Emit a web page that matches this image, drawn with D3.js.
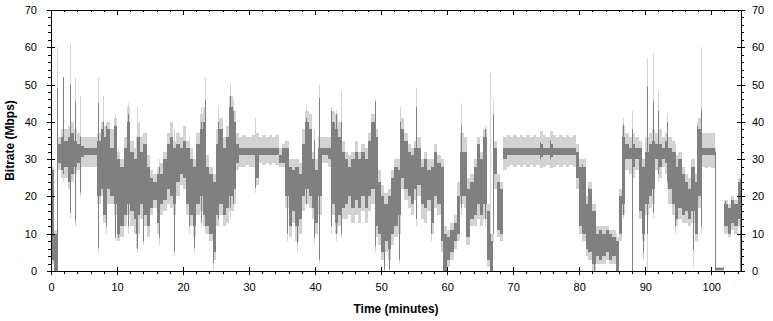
<!DOCTYPE html>
<html>
<head>
<meta charset="utf-8">
<script src="https://cdn.jsdelivr.net/npm/d3@7"></script>
<style>
body { margin: 0; background: #fff; }
svg text { font-family: "Liberation Sans", Arial, sans-serif; }
</style>
</head>
<body>
<svg id="svg1" width="773" height="321"></svg>
<script>
// bitrate samples, one every half minute (0 .. 104 min)
var binMinutes = 0.5;

// average bitrate band (dark grey), low / high in Mbps
var darkLow = [
  3,0,29,27,28,24,26,28,29,30.5,
  31,31,31,31,20,22,15,22,20,18,
  10,12,15,18,16,14,15,18,15,12,
  17,19,13,18,19,22,20,18,24,26,
  25,18,15,12,18,20,15,12,10,5,
  15,18,15,17,20,22,29,31,31,31,
  31,31,25,31,31,31,31,31,31,29,
  29,20,12,16,12,14,20,22,20,17,
  13,20,31,31,30,18,13,15,17,18,
  20,17,19,17,20,17,20,22,12,10,
  5,8,6,10,12,15,25,22,20,18,
  22,23,18,17,19,13,20,18,8,0,
  3,5,8,10,20,20,9,14,15,18,
  15,18,3,0,26,11,10,30,31,31,
  31,31,31,31,31,31,31,31,30.5,31,
  31,30.5,31,31,31,31,31,31,31,25,
  12,10,6,5,2,4,3,4,5,3,
  4,0,10,18,30,30,28,30,16,10,
  18,20,22,30,28,30,29,22,18,14,
  17,15,16,14,16,10,20,31,31,31,
  31,0.3,0.3,0.3,12,10,13,12,14
];
var darkHigh = [
  27,10,34,36,35,36,37,35,34,33.5,
  33,33,33,33,35,38,36,38,33,39,
  30,28,33,40,32,30,36,32,34,28,
  25,24,26,26,30,34,36,33,34,33,
  35,33,30,28,34,38,40,28,26,24,
  34,38,33,36,44,40,34,33,33,33,
  33,33,33,33,33,33,33,33,33,31,
  33,33,28,27,28,26,34,40,38,30,
  27,33,33,33,33,40,38,36,32,30,
  28,30,32,30,32,30,35,40,36,24,
  20,18,20,25,28,27,38,35,32,31,
  33,33,28,30,27,28,32,29,28,10,
  9,11,13,20,32,32,22,24,28,34,
  30,36,16,8,33,24,22,33,33,33,
  33,33,33,33,33,33,33,33,34,33,
  33,34,33,33,33,33,33,33,33,32,
  28,28,18,22,16,10,11,10,11,10,
  9,8,20,36,34,33,34,33,33,28,
  32,34,35,34,34,33,35,33,32,28,
  30,26,24,22,28,24,38,33,33,33,
  33,0.8,0.8,0.8,18,17,19,18,24
];

// peak bitrate band (light grey), low / high in Mbps
var lightLow = [
  2,0,27,25,25,22,24,26,27,28,
  28,28,28,28,18,20,13,18,18,15,
  8,9,12,15,12,10,10,14,12,9,
  15,17,10,15,16,18,17,15,20,23,
  22,15,12,9,15,16,12,10,8,3,
  12,15,12,13,16,18,27,28,28,28.5,
  28,28,23,29,28.5,29,28.5,29,28.5,28,
  28,17,9,13,8,10,16,18,17,14,
  10,15,29,29,28,15,10,12,14,14,
  15,13,15,13,16,13,16,18,9,7,
  3,5,3,7,9,10,22,19,17,15,
  19,20,14,13,16,10,17,15,5,0,
  1,3,6,8,18,17,7,12,12,14,
  12,14,1,0,22,9,8,27,28,28.5,
  28,28.5,28,28.5,28,28.5,28,28.5,27.5,28,
  28.5,27.5,28,28.5,28,28.5,28,28.5,28,22,
  10,8,4,3,0,2,2,2,3,2,
  2,0,8,15,27,26,25,27,14,8,
  15,17,18,27,25,28,26,18,15,12,
  14,13,13,12,13,8,17,28,27.5,28,
  27.5,0,0,0,10,9,11,10,12
];
var lightHigh = [
  28,11,36,38,38,39,40,38,37,36,
  36,36,36,36,37,40,39,40,38,41,
  32,30,36,44,35,33,40,36,37,31,
  27,26,28,29,32,37,40,35,37,36,
  39,35,33,30,37,42,44,31,28,26,
  38,41,36,39,47,43,37,36,36.5,36,
  36,36.5,37,36,36.5,36,36.5,36,36.5,33,
  34,35,30,30,30,29,38,43,42,32,
  30,36,36,36,36,43,42,40,35,32,
  31,32,35,32,34,33,37,42,38,27,
  23,21,22,27,30,30,41,37,34,33,
  35,36,30,32,30,30,34,31,30,12,
  11,13,15,24,37,36,25,26,30,36,
  32,38,18,10,35,26,24,36,36.5,36,
  36.5,36,36.5,36,36.5,36,36.5,36,37.5,36.5,
  36,37.5,36.5,36,36.5,36,36.5,36,36.5,34,
  30,30,20,24,18,12,12,12,12,11,
  11,9,22,39,37,36,37,36,35,30,
  36,37,38,37,38,36,37,36,35,31,
  32,28,26,25,30,26,41,37,37,37,
  37,1,1,1,19,18,20,19,25
];

// short spikes: minute, peak low, peak high, avg low, avg high
var spikeTime = [0.9,1.8,2.9,3.7,4.4,7.1,7.8,8.4,9.7,10.2,11.7,12.8,13.1,14.0,16.4,18.6,20.9,21.7,22.7,23.3,
  24.5,25.3,27.1,27.5,30.9,35.8,37.3,38.6,39.8,40.6,42.4,43.2,43.9,49.1,50.4,51.2,52.7,52.9,55.3,57.5,
  59.3,62.1,62.9,65.7,66.5,67.0,74.1,75.6,80.4,81.4,82.2,85.5,86.7,88.0,89.0,89.6,90.3,91.2,92.0,93.3,
  94.5,97.3,97.9,98.4,100.6,102.1,102.6,104.4];
var spikePeakLow = [0,24,14,12,20,5,13,10,8,8,10,6,5,7,7,4,10,5,12,10,
  0,12,14,16,21,8,5,17,7,2,10,8,9,5,0,0,2,18,12,8,
  0,15,7,12,0,8,29,29,8,3,0,0,14,0,14,3,0,14,24,22,
  10,1,8,10,0,10,9,0];
var spikePeakHigh = [60,52,61,52,47,52,47,40,42,33,45,36,44,36,30,38,36,30,44,52,
  26,44,50,46,41,33,30,44,38,50,44,43,48,46,20,22,28,44,49,30,
  22,45,25,39,53,46,37,37,30,24,16,10,41,43,34,30,57,58.5,48,42,
  34,30,40,60,33,19,16,24];
var spikeAvgLow = [0,26,15.6,13.3,21,6.2,15,12,9,9,12,10,6,8,9,5.3,12,6.2,13,12,
  2.2,14,17,18,22.3,10,7.5,18,9,3,12,10,10,6.6,0.4,0.4,3,20,14,10,
  0,17,9,14,0,10,30,30,10,5,0,0,15,0,16,4.8,10,15.6,26,24,
  12,5.7,10,12,0,12,10.2,0];
var spikeAvgHigh = [49,52,50,45.5,36,45,40,39,39,30,42,30,36,34,28,33,33,28,40,46,
  24,40,47,43,33,32,27,41,35,46.4,43,42,40,45.5,18,20,26,40,44,28,
  20,39,23,38,10,42,34.5,35,28.5,22.3,14,8,39.3,38,32,28,49.5,45.5,43,40,
  32,28,38.8,43.3,32,18.7,14,24.5];

// tick values
var xMajor = [0,10,20,30,40,50,60,70,80,90,100];
var xMinor = [2,4,6,8,12,14,16,18,22,24,26,28,32,34,36,38,42,44,46,48,52,54,56,58,
  62,64,66,68,72,74,76,78,82,84,86,88,92,94,96,98,102,104];
var yMajor = [0,10,20,30,40,50,60,70];
var yMinor = [2,4,6,8,12,14,16,18,22,24,26,28,32,34,36,38,42,44,46,48,52,54,56,58,62,64,66,68];

//set up constants
var leftEdge = 51;
var rightEdge = 741;
var topEdge = 10;
var bottomEdge = 271;
var lightColour = "#d3d3d3";
var darkColour = "#808080";

var svg = d3.select("#svg1");

var xScale = d3.scaleLinear().domain([0, 104.5]).range([leftEdge, rightEdge]);
var yScale = d3.scaleLinear().domain([0, 70]).range([bottomEdge, topEdge]);

svg.append("defs").append("clipPath").attr("id", "plotClip")
  .append("rect")
    .attr("x", leftEdge).attr("y", topEdge)
    .attr("width", rightEdge - leftEdge).attr("height", bottomEdge - topEdge);

var bins = darkLow.map(function (d, i) {
  return { t: i * binMinutes, dlo: d, dhi: darkHigh[i], llo: lightLow[i], lhi: lightHigh[i] };
});
var spikes = spikeTime.map(function (t, i) {
  return { t: t, llo: spikePeakLow[i], lhi: spikePeakHigh[i], dlo: spikeAvgLow[i], dhi: spikeAvgHigh[i] };
});

var plot = svg.append("g").attr("clip-path", "url(#plotClip)");

//DISPLAY BANDS - peak first, average on top
plot.append("g").selectAll("rect")
  .data(bins).enter().append("rect")
    .attr("x", function (d) { return xScale(d.t); })
    .attr("width", function (d) { return xScale(d.t + binMinutes) - xScale(d.t); })
    .attr("y", function (d) { return yScale(d.lhi); })
    .attr("height", function (d) { return Math.max(1, yScale(d.llo) - yScale(d.lhi)); })
    .attr("shape-rendering", "crispEdges")
    .style("fill", lightColour);

plot.append("g").selectAll("line")
  .data(spikes).enter().append("line")
    .attr("x1", function (d) { return Math.round(xScale(d.t)) + 0.5; })
    .attr("x2", function (d) { return Math.round(xScale(d.t)) + 0.5; })
    .attr("y1", function (d) { return yScale(d.llo); })
    .attr("y2", function (d) { return yScale(d.lhi); })
    .style("stroke", lightColour);

plot.append("g").selectAll("rect")
  .data(bins).enter().append("rect")
    .attr("x", function (d) { return xScale(d.t); })
    .attr("width", function (d) { return xScale(d.t + binMinutes) - xScale(d.t); })
    .attr("y", function (d) { return yScale(d.dhi); })
    .attr("height", function (d) { return Math.max(1, yScale(d.dlo) - yScale(d.dhi)); })
    .attr("shape-rendering", "crispEdges")
    .style("fill", darkColour);

plot.append("g").selectAll("line")
  .data(spikes).enter().append("line")
    .attr("x1", function (d) { return Math.round(xScale(d.t)) + 0.5; })
    .attr("x2", function (d) { return Math.round(xScale(d.t)) + 0.5; })
    .attr("y1", function (d) { return yScale(d.dlo); })
    .attr("y2", function (d) { return yScale(d.dhi); })
    .style("stroke", darkColour);

//AXES
function styleAxis(g) {
  g.attr("font-size", 11)
   .attr("font-family", "'Liberation Sans', Arial, sans-serif")
   .attr("shape-rendering", "crispEdges");
  g.selectAll("line").style("stroke", "#000");
  g.selectAll("path").style("stroke", "#000");
  g.selectAll("text").style("fill", "#000");
}
function noLabel() { return ""; }

// bottom
svg.append("g").attr("transform", "translate(0," + bottomEdge + ")")
  .call(d3.axisBottom(xScale).tickValues(xMajor).tickSize(4).tickSizeOuter(0).tickPadding(8))
  .call(styleAxis);
svg.append("g").attr("transform", "translate(0," + bottomEdge + ")")
  .call(d3.axisTop(xScale).tickValues(xMajor).tickSize(4).tickSizeOuter(0).tickFormat(noLabel))
  .call(styleAxis);
svg.append("g").attr("transform", "translate(0," + bottomEdge + ")")
  .call(d3.axisBottom(xScale).tickValues(xMinor).tickSize(3).tickSizeOuter(0).tickFormat(noLabel))
  .call(styleAxis);
// top
svg.append("g").attr("transform", "translate(0," + topEdge + ")")
  .call(d3.axisBottom(xScale).tickValues(xMajor).tickSize(5).tickSizeOuter(0).tickFormat(noLabel))
  .call(styleAxis);
svg.append("g").attr("transform", "translate(0," + topEdge + ")")
  .call(d3.axisBottom(xScale).tickValues(xMinor).tickSize(2).tickSizeOuter(0).tickFormat(noLabel))
  .call(styleAxis);
// left
svg.append("g").attr("transform", "translate(" + leftEdge + ",0)")
  .call(d3.axisLeft(yScale).tickValues(yMajor).tickSize(4).tickSizeOuter(0).tickPadding(10))
  .call(styleAxis);
svg.append("g").attr("transform", "translate(" + leftEdge + ",0)")
  .call(d3.axisRight(yScale).tickValues(yMajor).tickSize(4).tickSizeOuter(0).tickFormat(noLabel))
  .call(styleAxis);
svg.append("g").attr("transform", "translate(" + leftEdge + ",0)")
  .call(d3.axisLeft(yScale).tickValues(yMinor).tickSize(3).tickSizeOuter(0).tickFormat(noLabel))
  .call(styleAxis);
// right
svg.append("g").attr("transform", "translate(" + rightEdge + ",0)")
  .call(d3.axisRight(yScale).tickValues(yMajor).tickSize(4).tickSizeOuter(0).tickPadding(7))
  .call(styleAxis);
svg.append("g").attr("transform", "translate(" + rightEdge + ",0)")
  .call(d3.axisLeft(yScale).tickValues(yMajor).tickSize(4).tickSizeOuter(0).tickFormat(noLabel))
  .call(styleAxis);
svg.append("g").attr("transform", "translate(" + rightEdge + ",0)")
  .call(d3.axisRight(yScale).tickValues(yMinor).tickSize(3).tickSizeOuter(0).tickFormat(noLabel))
  .call(styleAxis);

//AXIS TITLES
svg.append("text")
  .attr("x", (leftEdge + rightEdge) / 2)
  .attr("y", 313)
  .attr("text-anchor", "middle")
  .style("font-size", "12px")
  .style("font-weight", "bold")
  .text("Time (minutes)");

svg.append("text")
  .attr("transform", "translate(14," + ((topEdge + bottomEdge) / 2) + ") rotate(-90)")
  .attr("text-anchor", "middle")
  .style("font-size", "12px")
  .style("font-weight", "bold")
  .text("Bitrate (Mbps)");
</script>
</body>
</html>
